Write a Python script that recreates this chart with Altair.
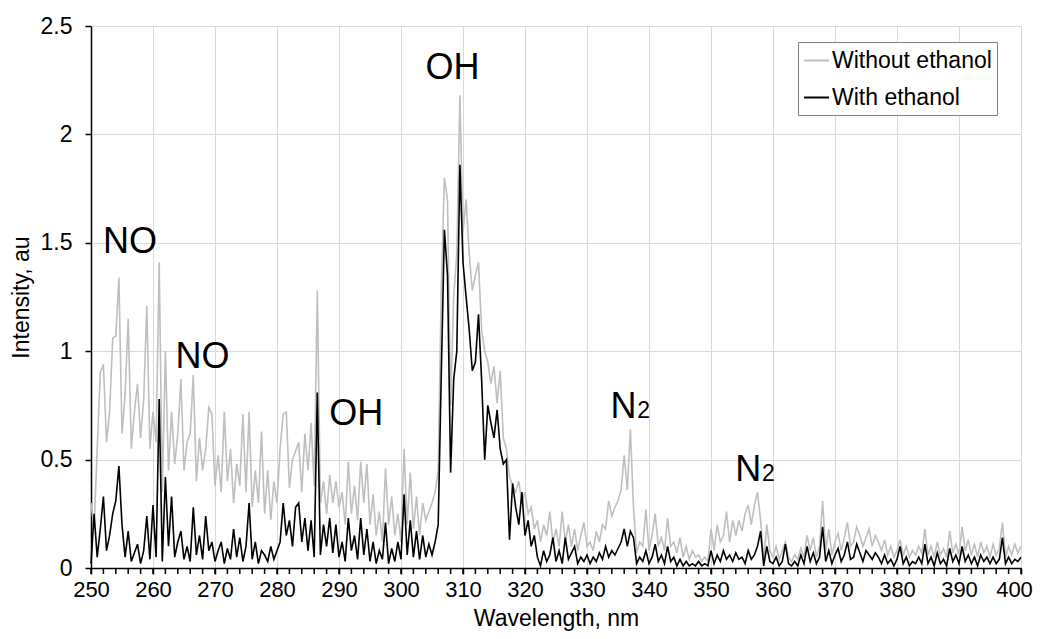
import altair as alt
import pandas as pd

# Wavelength grid (nm), 0.5 nm step
wavelength = [250 + 0.5 * i for i in range(301)]

without_ethanol = [
    0.30, 0.18, 0.55, 0.90, 0.94, 0.58, 0.72, 1.06, 1.07, 1.34,
    0.62, 0.80, 1.15, 0.55, 0.72, 0.85, 0.60, 0.78, 1.21, 0.55,
    0.72, 0.58, 1.41, 0.35, 1.00, 0.45, 0.72, 0.48, 0.62, 0.87,
    0.45, 0.58, 0.62, 0.89, 0.40, 0.60, 0.45, 0.55, 0.74, 0.71,
    0.38, 0.52, 0.35, 0.72, 0.40, 0.55, 0.30, 0.48, 0.38, 0.71,
    0.35, 0.72, 0.28, 0.45, 0.30, 0.63, 0.25, 0.45, 0.22, 0.40,
    0.30, 0.55, 0.71, 0.72, 0.37, 0.50, 0.54, 0.58, 0.35, 0.62,
    0.45, 0.67, 0.38, 1.28, 0.30, 0.40, 0.25, 0.43, 0.30, 0.40,
    0.28, 0.35, 0.20, 0.49, 0.25, 0.38, 0.22, 0.49, 0.30, 0.48,
    0.20, 0.34, 0.15, 0.26, 0.12, 0.46, 0.20, 0.33, 0.15, 0.25,
    0.12, 0.55, 0.20, 0.44, 0.18, 0.33, 0.15, 0.30, 0.22, 0.26,
    0.30, 0.35, 0.45, 1.30, 1.80, 1.70, 0.75, 1.25, 1.45, 2.18,
    1.55, 1.70, 1.45, 1.28, 1.35, 1.41, 1.10, 1.00, 0.95, 0.85,
    0.93, 0.76, 0.91, 0.60, 0.55, 0.42, 0.38, 0.35, 0.40, 0.30,
    0.35, 0.25, 0.28, 0.18, 0.22, 0.12, 0.20, 0.15, 0.26, 0.12,
    0.18, 0.10, 0.26, 0.12, 0.20, 0.10, 0.18, 0.08, 0.15, 0.21,
    0.10, 0.12, 0.08, 0.17, 0.12, 0.20, 0.18, 0.31, 0.24, 0.28,
    0.31, 0.36, 0.52, 0.36, 0.64, 0.28, 0.07, 0.12, 0.10, 0.27,
    0.08, 0.15, 0.25, 0.10, 0.14, 0.08, 0.23, 0.10, 0.12, 0.07,
    0.14, 0.05, 0.10, 0.04, 0.08, 0.05, 0.06, 0.03, 0.05, 0.03,
    0.18, 0.08, 0.20, 0.12, 0.15, 0.26, 0.12, 0.22, 0.15, 0.22,
    0.17, 0.25, 0.29, 0.20, 0.29, 0.35, 0.22, 0.04, 0.20, 0.08,
    0.05, 0.10, 0.04, 0.08, 0.12, 0.05, 0.03, 0.06, 0.04, 0.09,
    0.05, 0.15, 0.08, 0.14, 0.05, 0.10, 0.31, 0.08, 0.18, 0.06,
    0.12, 0.16, 0.08, 0.14, 0.21, 0.10, 0.12, 0.19, 0.15, 0.10,
    0.14, 0.18, 0.10, 0.15, 0.12, 0.08, 0.13, 0.06, 0.10, 0.05,
    0.08, 0.13, 0.06, 0.10, 0.05, 0.08, 0.06, 0.10, 0.07, 0.18,
    0.06, 0.10, 0.05, 0.12, 0.06, 0.09, 0.05, 0.17, 0.07, 0.11,
    0.06, 0.19, 0.08, 0.13, 0.06, 0.11, 0.05, 0.12, 0.07, 0.10,
    0.05, 0.11, 0.06, 0.09, 0.21, 0.05, 0.10, 0.06, 0.11, 0.07,
    0.10,
]

with_ethanol = [
    0.02, 0.25, 0.05, 0.18, 0.33, 0.08, 0.15, 0.25, 0.31, 0.47,
    0.20, 0.05, 0.17, 0.03, 0.07, 0.11, 0.02, 0.08, 0.24, 0.04,
    0.29, 0.05, 0.78, 0.03, 0.42, 0.10, 0.33, 0.05, 0.12, 0.17,
    0.04, 0.10, 0.03, 0.28, 0.06, 0.15, 0.04, 0.24, 0.08, 0.12,
    0.03, 0.08, 0.12, 0.02, 0.09, 0.04, 0.18, 0.05, 0.14, 0.03,
    0.10, 0.30, 0.04, 0.12, 0.02, 0.08, 0.06, 0.03, 0.10, 0.04,
    0.08, 0.12, 0.30, 0.15, 0.22, 0.10, 0.28, 0.30, 0.12, 0.23,
    0.08, 0.22, 0.05, 0.81, 0.06, 0.20, 0.10, 0.23, 0.07, 0.20,
    0.05, 0.12, 0.03, 0.23, 0.08, 0.15, 0.04, 0.23, 0.06, 0.18,
    0.03, 0.12, 0.02, 0.08, 0.04, 0.21, 0.02, 0.09, 0.03, 0.12,
    0.04, 0.34, 0.06, 0.22, 0.05, 0.17, 0.04, 0.15, 0.05, 0.11,
    0.06, 0.12, 0.20, 0.90, 1.56, 1.35, 0.44, 0.87, 1.00, 1.86,
    1.41, 1.25, 1.10, 0.91, 0.95, 1.17, 0.87, 0.50, 0.75, 0.67,
    0.60, 0.73, 0.55, 0.48, 0.50, 0.13, 0.39, 0.28, 0.20, 0.35,
    0.15, 0.22, 0.10, 0.15, 0.05, 0.01, 0.08, 0.03, 0.06, 0.14,
    0.03, 0.08, 0.02, 0.14, 0.04, 0.07, 0.10, 0.02, 0.05, 0.03,
    0.06, 0.02, 0.05, 0.03, 0.07, 0.04, 0.10, 0.05, 0.08, 0.06,
    0.09, 0.12, 0.18, 0.10, 0.17, 0.14, 0.02, 0.05, 0.03, 0.08,
    0.02, 0.05, 0.11, 0.03, 0.06, 0.02, 0.10, 0.03, 0.05, 0.01,
    0.04, 0.01, 0.03, 0.01, 0.02, 0.01, 0.03, 0.01, 0.02, 0.01,
    0.08, 0.02, 0.06, 0.03, 0.08, 0.04, 0.06, 0.03, 0.07, 0.04,
    0.05, 0.02, 0.08, 0.04, 0.06, 0.10, 0.17, 0.01, 0.10, 0.03,
    0.02, 0.05, 0.01, 0.03, 0.11, 0.02, 0.01, 0.03, 0.01, 0.06,
    0.02, 0.10, 0.03, 0.07, 0.02, 0.05, 0.19, 0.03, 0.08, 0.02,
    0.06, 0.09, 0.03, 0.06, 0.12, 0.04, 0.05, 0.11, 0.07, 0.03,
    0.08, 0.06, 0.04, 0.07, 0.05, 0.02, 0.06, 0.02, 0.04, 0.01,
    0.04, 0.10, 0.02, 0.05, 0.01, 0.03, 0.02, 0.05, 0.02, 0.11,
    0.02, 0.05, 0.01, 0.07, 0.02, 0.04, 0.01, 0.09, 0.03, 0.06,
    0.02, 0.10, 0.03, 0.06, 0.02, 0.05, 0.01, 0.06, 0.03, 0.05,
    0.02, 0.05, 0.02, 0.04, 0.14, 0.02, 0.05, 0.02, 0.04, 0.03,
    0.05,
]

series_names = ["Without ethanol", "With ethanol"]
series_colors = ["#BFBFBF", "#000000"]

x_major = list(range(250, 401, 10))
x_minor = list(range(250, 401, 2))
y_ticks = [0, 0.5, 1, 1.5, 2, 2.5]

# Annotations (label, wavelength, intensity at text baseline, font size)
ann_text = ["NO", "NO", "OH", "OH", "N", "2", "N", "2"]
ann_x = [256.3, 268.0, 292.8, 308.3, 335.9, 339.15, 356.0, 359.25]
ann_y = [1.453, 0.922, 0.660, 2.255, 0.692, 0.692, 0.401, 0.401]
ann_size = [36, 36, 36, 36, 36, 23, 36, 23]

FONT = "Liberation Sans"

df_wo = pd.DataFrame({"Wavelength": wavelength, "Intensity": without_ethanol,
                      "Series": series_names[0]})
df_w = pd.DataFrame({"Wavelength": wavelength, "Intensity": with_ethanol,
                     "Series": series_names[1]})
df_ann = pd.DataFrame({"t": ann_text, "x": ann_x, "y": ann_y, "s": ann_size})
df_minor = pd.DataFrame({"x": x_minor})

x_scale = alt.Scale(domain=[250, 400], nice=False, zero=False)
y_scale = alt.Scale(domain=[0, 2.5], nice=False)
color = alt.Color("Series:N",
                  scale=alt.Scale(domain=series_names, range=series_colors),
                  legend=alt.Legend(title=None, orient="none", legendX=707, legendY=16,
                                    symbolType="stroke", symbolStrokeWidth=2,
                                    symbolSize=625, labelFontSize=23, labelFont=FONT,
                                    labelColor="#000000", rowPadding=11,
                                    strokeColor="#808080", fillColor="white",
                                    padding=5, labelLimit=400, labelOffset=2))

x_enc = alt.X("Wavelength:Q", scale=x_scale,
              axis=alt.Axis(values=x_major, title="Wavelength, nm", format="d",
                            grid=True, gridColor="#D9D9D9", gridWidth=1,
                            domainColor="#000000", domainWidth=1.5,
                            tickColor="#000000", tickSize=6, tickWidth=1.5,
                            labelFontSize=22, labelFont=FONT, labelColor="#000000",
                            labelPadding=5, labelFlush=False, labelOverlap=False,
                            labelBound=False,
                            labelOffset={"condition": {"test": "datum.value == 400",
                                                       "value": -7},
                                         "value": 0},
                            titleFontSize=23, titleFont=FONT,
                            titleFontWeight="normal", titleColor="#000000",
                            titlePadding=7))
y_enc = alt.Y("Intensity:Q", scale=y_scale,
              axis=alt.Axis(values=y_ticks, title="Intensity, au", format="~g",
                            grid=True, gridColor="#D9D9D9", gridWidth=1,
                            domainColor="#000000", domainWidth=1.5,
                            tickColor="#000000", tickSize=6, tickWidth=1.5,
                            labelFontSize=23, labelFont=FONT, labelColor="#000000",
                            labelPadding=13, labelFlush=False,
                            titleFontSize=23, titleFont=FONT,
                            titleFontWeight="normal", titleColor="#000000",
                            titlePadding=7))

line_wo = alt.Chart(df_wo).mark_line(strokeWidth=1.6).encode(x=x_enc, y=y_enc, color=color)
line_w = alt.Chart(df_w).mark_line(strokeWidth=1.6).encode(x=x_enc, y=y_enc, color=color)

minor = alt.Chart(df_minor).mark_rule(color="#000000", strokeWidth=1.5).encode(
    x=alt.X("x:Q", scale=x_scale),
    y=alt.value(542), y2=alt.value(548))

ann = alt.Chart(df_ann).mark_text(font=FONT, color="#000000", align="center",
                                  baseline="alphabetic").encode(
    x=alt.X("x:Q", scale=x_scale),
    y=alt.Y("y:Q", scale=y_scale),
    text="t:N",
    size=alt.Size("s:Q", scale=None, legend=None))

chart = alt.layer(line_wo, line_w, minor, ann).properties(
    width=930, height=542,
    autosize=alt.AutoSizeParams(type="none"),
    padding={"left": 83, "top": 18, "right": 12, "bottom": 63},
).configure_view(stroke="#808080", strokeWidth=1).configure(background="white")

chart.save("out.html", embed_options={"renderer": "svg", "actions": False})
